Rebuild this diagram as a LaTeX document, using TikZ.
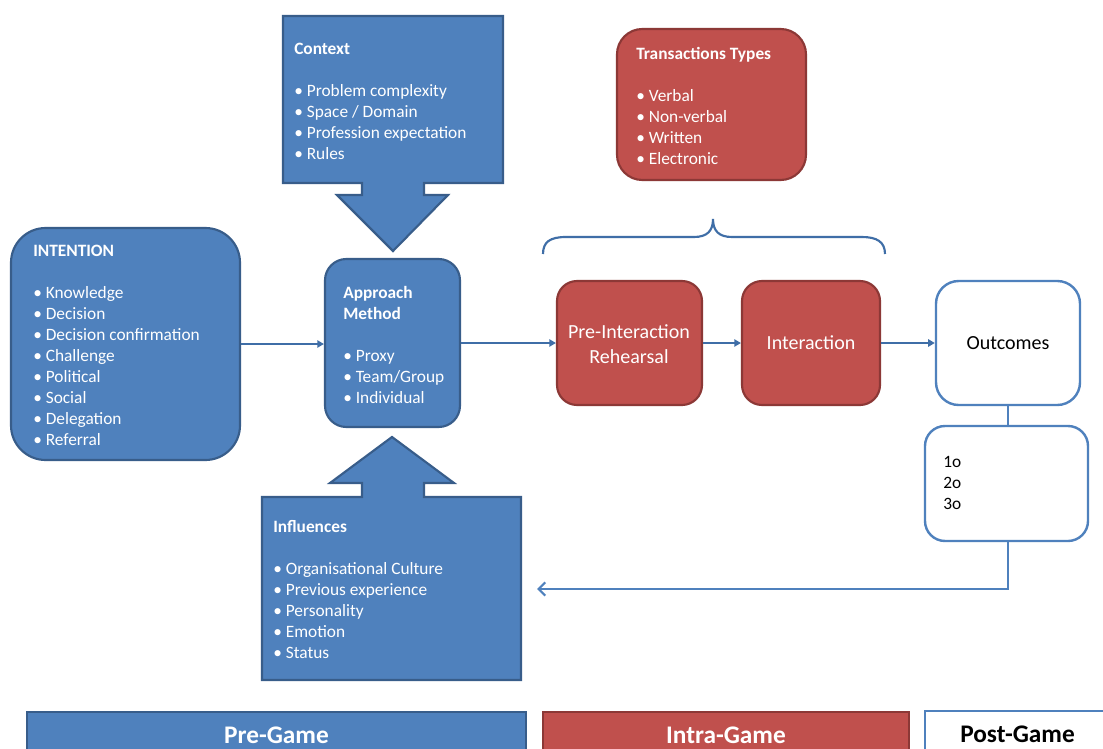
\documentclass[tikz,border=0pt]{standalone}
\usepackage{fontspec}
\setmainfont{Carlito}
\usetikzlibrary{fit,arrows.meta}
\definecolor{bfill}{HTML}{4F81BD}
\definecolor{bline}{HTML}{385D8A}
\definecolor{rfill}{HTML}{C0504D}
\definecolor{rline}{HTML}{8C3836}
\definecolor{conn}{HTML}{3F6EA7}
\tikzset{
  bluebox/.style={draw=bline, fill=bfill, line width=1.6pt, inner sep=0pt},
  redbox/.style={draw=rline, fill=rfill, line width=1.6pt, inner sep=0pt, rounded corners=15pt,
     text=white, font=\fontsize{15}{18.75}\selectfont, align=center},
  whitebox/.style={draw=bfill, fill=white, line width=1.8pt, inner sep=0pt},
  listtext/.style={anchor=base west, inner sep=0pt, align=left, text=white,
     font=\fontsize{13}{15.75}\selectfont},
  flow/.style={draw=conn, line width=1.7pt, -{Triangle[length=5pt,width=5.5pt]}},
  barlabel/.style={font=\fontsize{19}{22}\selectfont\bfseries},
}
\begin{document}
\begin{tikzpicture}[x=0.75pt, y=-0.75pt]
\useasboundingbox (0,0) rectangle (1103,749);
\clip (0,0) rectangle (1103,749);
\fill[white] (0,0) rectangle (1103,749);

% Context arrow
\draw[bluebox] (283,16) -- (503,16) -- (503,183) -- (424,183) -- (424,195) -- (448,195)
  -- (393,251) -- (337,195) -- (362,195) -- (362,183) -- (283,183) -- cycle;
\node[listtext] (ctxtext) at (294,159) {\textbf{Context}\\[15.75pt]
  \textbullet\ Problem complexity\\ \textbullet\ Space / Domain\\
  \textbullet\ Profession expectation\\ \textbullet\ Rules};

% Transactions types
\node[redbox, rounded corners=19pt, fit={(617,29) (806,180)}] (tt) {};
\node[listtext] (tttext) at (636,164) {\textbf{Transactions Types}\\[15.75pt]
  \textbullet\ Verbal\\ \textbullet\ Non-verbal\\ \textbullet\ Written\\ \textbullet\ Electronic};

% Brace
\draw[draw=conn, line width=1.6pt] (543,254) .. controls (543,242) and (550,237) .. (566,237)
  -- (694,237) .. controls (707,237) and (713,231) .. (713,219)
  .. controls (713,231) and (719,237) .. (732,237)
  -- (862,237) .. controls (877,237) and (885,242) .. (885,254);

% Intention
\node[bluebox, rounded corners=26pt, fit={(11,228) (240,460)}] (intention) {};
\node[listtext] (inttext) at (33,445) {\textbf{INTENTION}\\[15.75pt]
  \textbullet\ Knowledge\\ \textbullet\ Decision\\ \textbullet\ Decision confirmation\\
  \textbullet\ Challenge\\ \textbullet\ Political\\ \textbullet\ Social\\
  \textbullet\ Delegation\\ \textbullet\ Referral};

% Approach
\node[bluebox, rounded corners=16pt, fit={(325,259) (460,427)}] (approach) {};
\node[listtext] (apptext) at (343,403) {\textbf{Approach}\\ \textbf{Method}\\[15.75pt]
  \textbullet\ Proxy\\ \textbullet\ Team/Group\\ \textbullet\ Individual};

% Intra-game boxes
\node[redbox, fit={(557,281) (702,405)}] (preint) {};
\node[text=white, font=\fontsize{15}{18.75}\selectfont, align=center] (pretext) at (629,344) {Pre-Interaction\\Rehearsal};
\node[redbox, fit={(742,281) (880,405)}] (inter) {};
\node[text=white, font=\fontsize{15}{18.75}\selectfont] (intertext) at (inter.center) {Interaction};

% Outcomes
\node[whitebox, rounded corners=17pt, fit={(936,281) (1080,405)}] (outc) {};
\node[font=\fontsize{15}{18.75}\selectfont] (outtext) at (outc.center) {Outcomes};
\node[whitebox, rounded corners=15pt, fit={(925,426) (1088,541)}] (sub) {};
\node[listtext, text=black] (subtext) at (943,509) {1o\\2o\\3o};

% Influences arrow
\draw[bluebox] (262,680) -- (262,497) -- (362,497) -- (362,483) -- (330,483) -- (392,437)
  -- (454,483) -- (424,483) -- (424,497) -- (521,497) -- (521,680) -- cycle;
\node[listtext] (infltext) at (273,658) {\textbf{Influences}\\[15.75pt]
  \textbullet\ Organisational Culture\\ \textbullet\ Previous experience\\
  \textbullet\ Personality\\ \textbullet\ Emotion\\ \textbullet\ Status};

% Connectors
\draw[flow] (intention.east) -- (intention.east -| approach.west);
\draw[flow] (approach.east) -- (approach.east -| preint.west);
\draw[flow] (preint.east) -- (preint.east -| inter.west);
\draw[flow] (inter.east) -- (inter.east -| outc.west);
\draw[draw=bfill, line width=0.8pt] (outc.south) -- (outc.south |- sub.north);
\coordinate (fb) at (537,589);
\draw[draw=bfill, line width=1.7pt, -{Straight Barb[length=5pt,width=10pt]}] (outc.south |- sub.south) |- (fb);

% Bottom bars
\node[bluebox, fit={(27,712) (526,758)}] (pregame) {};
\node[barlabel, text=white] (pretxt) at (pregame.center) {Pre-Game};
\node[draw=rline, fill=rfill, line width=1.6pt, inner sep=0pt, fit={(543,712) (909,758)}] (intragame) {};
\node[barlabel, text=white] (intratxt) at (intragame.center) {Intra-Game};
\node[whitebox, fit={(925,711) (1110,758)}] (postgame) {};
\node[barlabel] (posttxt) at (postgame.center) {Post-Game};
\end{tikzpicture}
\end{document}
